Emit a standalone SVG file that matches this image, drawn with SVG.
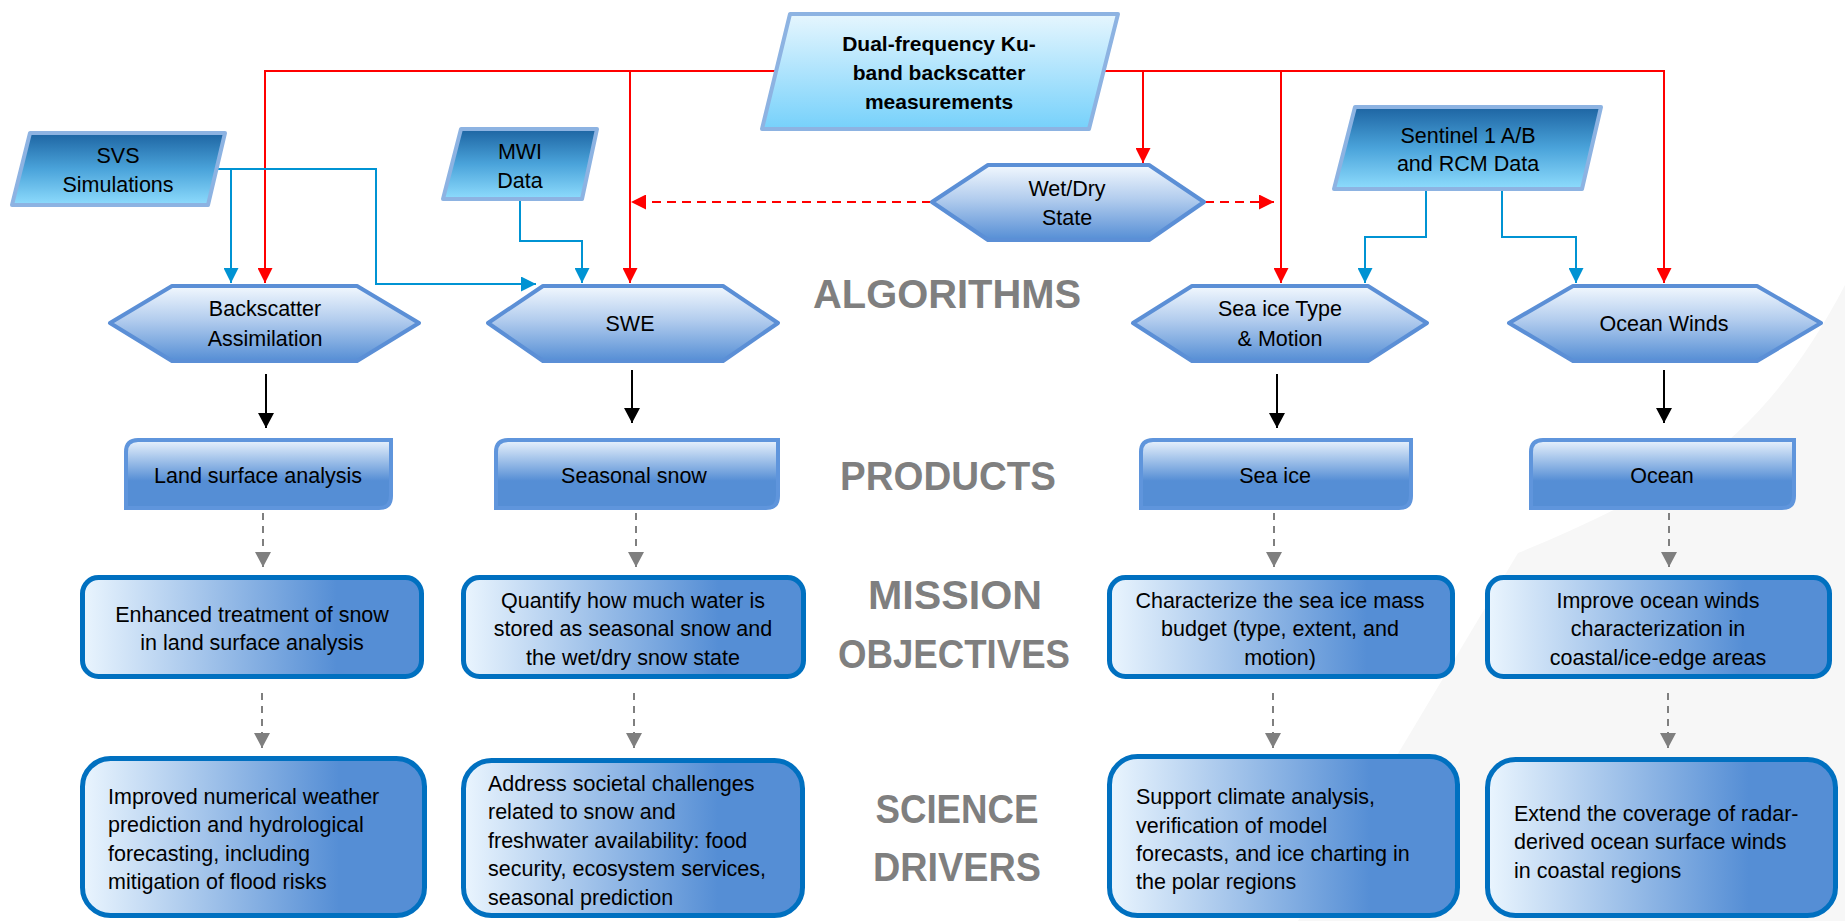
<svg xmlns="http://www.w3.org/2000/svg" width="1845" height="921" viewBox="0 0 1845 921">
<defs>
<linearGradient id="gInput" x1="0" y1="0" x2="0" y2="1">
<stop offset="0" stop-color="#1d64a2"/><stop offset="0.5" stop-color="#4aa3da"/><stop offset="1" stop-color="#8edcfd"/>
</linearGradient>
<linearGradient id="gDual" x1="0" y1="0" x2="0" y2="1">
<stop offset="0" stop-color="#e6f6fe"/><stop offset="1" stop-color="#76d1fb"/>
</linearGradient>
<linearGradient id="gHex" x1="0" y1="0" x2="0" y2="1">
<stop offset="0" stop-color="#f2f8fe"/><stop offset="0.45" stop-color="#b3cdee"/><stop offset="1" stop-color="#558ed5"/>
</linearGradient>
<linearGradient id="gProd" x1="0" y1="0" x2="0" y2="1">
<stop offset="0" stop-color="#eaf3fd"/><stop offset="0.6" stop-color="#558ed5"/><stop offset="1" stop-color="#558ed5"/>
</linearGradient>
<linearGradient id="gBox" x1="0" y1="0" x2="1" y2="0">
<stop offset="0" stop-color="#eaf5fe"/><stop offset="0.75" stop-color="#558ed5"/><stop offset="1" stop-color="#558ed5"/>
</linearGradient>
<marker id="aRed" markerUnits="userSpaceOnUse" markerWidth="15" markerHeight="15" refX="15" refY="7.5" orient="auto"><path d="M0,0 L15,7.5 L0,15 z" fill="#ff0000"/></marker>
<marker id="aBlue" markerUnits="userSpaceOnUse" markerWidth="15" markerHeight="15" refX="15" refY="7.5" orient="auto"><path d="M0,0 L15,7.5 L0,15 z" fill="#0093d3"/></marker>
<marker id="aBlack" markerUnits="userSpaceOnUse" markerWidth="15" markerHeight="16" refX="15" refY="8" orient="auto"><path d="M0,0 L15,8 L0,16 z" fill="#000"/></marker>
<marker id="aGray" markerUnits="userSpaceOnUse" markerWidth="15" markerHeight="16" refX="15" refY="8" orient="auto"><path d="M0,0 L15,8 L0,16 z" fill="#7f7f7f"/></marker>
<style>
text{font-family:"Liberation Sans",Arial,sans-serif;font-size:21.5px;fill:#000}
.c{text-anchor:middle}
.b{font-weight:bold;font-size:21px}
.lab{font-weight:bold;font-size:41px;fill:#7f7f7f;text-anchor:middle}
.inp{fill:url(#gInput);stroke:#8db3e2;stroke-width:4;stroke-linejoin:round}
.dual{fill:url(#gDual);stroke:#8db3e2;stroke-width:4;stroke-linejoin:round}
.hex{fill:url(#gHex);stroke:#5b8fd6;stroke-width:4;stroke-linejoin:round}
.prod{fill:url(#gProd);stroke:#5f95dc;stroke-width:4}
.box{fill:url(#gBox);stroke:#0070c0;stroke-width:5}
.red{fill:none;stroke:#ff0000;stroke-width:2;marker-end:url(#aRed)}
.redd{fill:none;stroke:#ff0000;stroke-width:2;stroke-dasharray:9 6;marker-end:url(#aRed)}
.blue{fill:none;stroke:#0093d3;stroke-width:2;marker-end:url(#aBlue)}
.blk{fill:none;stroke:#000;stroke-width:2;marker-end:url(#aBlack)}
.gry{fill:none;stroke:#7f7f7f;stroke-width:2;stroke-dasharray:7 6;marker-end:url(#aGray)}
</style>
</defs>
<rect width="1845" height="921" fill="#fff"/>
<path d="M1298,921 L1518,553 Q1600,520 1690,470 Q1780,410 1845,285 L1845,921 Z" fill="#f7f7f7"/>

<g id="connectors">
<path class="red" d="M775,71 H265 V283"/>
<path class="red" d="M630,71 V283"/>
<path class="red" d="M1105,71 H1664 V283"/>
<path class="red" d="M1143,71 V163"/>
<path class="red" d="M1281,71 V283"/>
<path class="redd" d="M931,202 H631"/>
<path class="redd" d="M1205,202 H1274"/>
<path class="blue" d="M216,169 H376 V284 H536"/>
<path class="blue" d="M231,169 V283"/>
<path class="blue" d="M520,200 V241 H582 V283"/>
<path class="blue" d="M1426,190 V237 H1365 V283"/>
<path class="blue" d="M1502,190 V237 H1576 V283"/>
<path class="blk" d="M266,374 V428"/>
<path class="blk" d="M632,370 V423"/>
<path class="blk" d="M1277,374 V428"/>
<path class="blk" d="M1664,370 V423"/>
<path class="gry" d="M263,513 V567"/>
<path class="gry" d="M636,513 V567"/>
<path class="gry" d="M1274,513 V567"/>
<path class="gry" d="M1669,513 V567"/>
<path class="gry" d="M262,693 V748"/>
<path class="gry" d="M634,693 V748"/>
<path class="gry" d="M1273,693 V748"/>
<path class="gry" d="M1668,693 V748"/>
</g>

<g id="dual">
<polygon class="dual" points="790,14 1118,14 1089,129 762,129"/>
<text class="c b" x="939" y="50.5">Dual-frequency Ku-</text>
<text class="c b" x="939" y="79.5">band backscatter</text>
<text class="c b" x="939" y="108.5">measurements</text>
</g>
<g id="svs">
<polygon class="inp" points="30,133 225,133 208,205 12,205"/>
<text class="c" x="118" y="163">SVS</text>
<text class="c" x="118" y="192">Simulations</text>
</g>
<g id="mwi">
<polygon class="inp" points="461,129 597,129 582,199 443,199"/>
<text class="c" x="520" y="159">MWI</text>
<text class="c" x="520" y="187.5">Data</text>
</g>
<g id="sentinel">
<polygon class="inp" points="1355,107 1601,107 1582,189 1334,189"/>
<text class="c" x="1468" y="142.5">Sentinel 1 A/B</text>
<text class="c" x="1468" y="171">and RCM Data</text>
</g>
<g id="wetdry">
<polygon class="hex" points="932,202 988,165 1149,165 1204,202 1149,240 988,240"/>
<text class="c" x="1067" y="196">Wet/Dry</text>
<text class="c" x="1067" y="225">State</text>
</g>
<g id="backscatter">
<polygon class="hex" points="110,323 172,286 357,286 419,323 357,361 172,361"/>
<text class="c" x="265" y="316">Backscatter</text>
<text class="c" x="265" y="345.5">Assimilation</text>
</g>
<g id="swe">
<polygon class="hex" points="488,323 543,286 723,286 778,323 723,361 543,361"/>
<text class="c" x="630" y="330.5">SWE</text>
</g>
<g id="seaicetype">
<polygon class="hex" points="1133,323 1192,286 1368,286 1427,323 1368,361 1192,361"/>
<text class="c" x="1280" y="316">Sea ice Type</text>
<text class="c" x="1280" y="345.5">&amp; Motion</text>
</g>
<g id="oceanwinds">
<polygon class="hex" points="1509,323 1573,286 1757,286 1821,323 1757,361 1573,361"/>
<text class="c" x="1664" y="330.5">Ocean Winds</text>
</g>

<text class="lab" x="947" y="308" textLength="268" lengthAdjust="spacingAndGlyphs">ALGORITHMS</text>
<text class="lab" x="948" y="490" textLength="216" lengthAdjust="spacingAndGlyphs">PRODUCTS</text>
<text class="lab" x="955" y="609" textLength="174" lengthAdjust="spacingAndGlyphs">MISSION</text>
<text class="lab" x="954" y="668" textLength="232" lengthAdjust="spacingAndGlyphs">OBJECTIVES</text>
<text class="lab" x="957" y="823" textLength="163" lengthAdjust="spacingAndGlyphs">SCIENCE</text>
<text class="lab" x="957" y="881" textLength="168" lengthAdjust="spacingAndGlyphs">DRIVERS</text>

<g id="prod-land">
<path class="prod" d="M126,452 Q126,440 138,440 H391 V496 Q391,508 379,508 H126 Z"/>
<text class="c" x="258" y="482.5">Land surface analysis</text>
</g>
<g id="prod-snow">
<path class="prod" d="M496,452 Q496,440 508,440 H778 V496 Q778,508 766,508 H496 Z"/>
<text class="c" x="634" y="482.5">Seasonal snow</text>
</g>
<g id="prod-seaice">
<path class="prod" d="M1141,452 Q1141,440 1153,440 H1411 V496 Q1411,508 1399,508 H1141 Z"/>
<text class="c" x="1275" y="482.5">Sea ice</text>
</g>
<g id="prod-ocean">
<path class="prod" d="M1531,452 Q1531,440 1543,440 H1794 V496 Q1794,508 1782,508 H1531 Z"/>
<text class="c" x="1662" y="482.5">Ocean</text>
</g>

<g id="obj-land">
<rect class="box" x="82.5" y="577.5" width="339" height="99" rx="16"/>
<text class="c" x="252" y="621.5">Enhanced treatment of snow</text>
<text class="c" x="252" y="650">in land surface analysis</text>
</g>
<g id="obj-snow">
<rect class="box" x="463.5" y="577.5" width="340" height="99" rx="16"/>
<text class="c" x="633" y="607.5">Quantify how much water is</text>
<text class="c" x="633" y="636">stored as seasonal snow and</text>
<text class="c" x="633" y="664.5">the wet/dry snow state</text>
</g>
<g id="obj-seaice">
<rect class="box" x="1109.5" y="577.5" width="343" height="99" rx="16"/>
<text class="c" x="1280" y="607.5">Characterize the sea ice mass</text>
<text class="c" x="1280" y="636">budget (type, extent, and</text>
<text class="c" x="1280" y="664.5">motion)</text>
</g>
<g id="obj-ocean">
<rect class="box" x="1487.5" y="577.5" width="342" height="99" rx="16"/>
<text class="c" x="1658" y="607.5">Improve ocean winds</text>
<text class="c" x="1658" y="636">characterization in</text>
<text class="c" x="1658" y="664.5">coastal/ice-edge areas</text>
</g>

<g id="sci-land">
<rect class="box" x="82.5" y="758.5" width="342" height="157" rx="28"/>
<text x="108" y="803.5">Improved numerical weather</text>
<text x="108" y="832">prediction and hydrological</text>
<text x="108" y="861">forecasting, including</text>
<text x="108" y="889">mitigation of flood risks</text>
</g>
<g id="sci-snow">
<rect class="box" x="463.5" y="760.5" width="339" height="155" rx="28"/>
<text x="488" y="791">Address societal challenges</text>
<text x="488" y="819">related to snow and</text>
<text x="488" y="847.5">freshwater availability: food</text>
<text x="488" y="876">security, ecosystem services,</text>
<text x="488" y="905">seasonal prediction</text>
</g>
<g id="sci-seaice">
<rect class="box" x="1109.5" y="756.5" width="348" height="159" rx="28"/>
<text x="1136" y="804">Support climate analysis,</text>
<text x="1136" y="832.5">verification of model</text>
<text x="1136" y="861">forecasts, and ice charting in</text>
<text x="1136" y="889">the polar regions</text>
</g>
<g id="sci-ocean">
<rect class="box" x="1487.5" y="759.5" width="348" height="156" rx="28"/>
<text x="1514" y="821">Extend the coverage of radar-</text>
<text x="1514" y="849">derived ocean surface winds</text>
<text x="1514" y="877.5">in coastal regions</text>
</g>
</svg>
